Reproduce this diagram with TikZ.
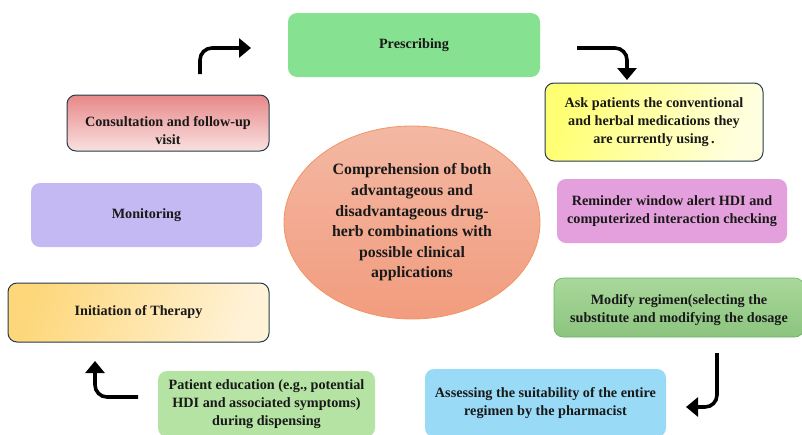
\documentclass[tikz,border=0pt]{standalone}
\usepackage{fontspec}
\setmainfont{Liberation Serif}
\usetikzlibrary{arrows.meta,shapes.geometric}
\definecolor{cPres}{HTML}{86E290}
\definecolor{cRem}{HTML}{E4A0DC}
\definecolor{cAss}{HTML}{99DAF6}
\definecolor{cEdu}{HTML}{B5E3A4}
\definecolor{cMon}{HTML}{C5B9F4}
\definecolor{cDark}{HTML}{243B4A}
\tikzset{
  box/.style={rectangle, rounded corners=9pt, inner sep=0pt, align=center,
    font=\fontsize{14.2}{18}\selectfont\bfseries, text=black!90},
  boxtext/.style={inner sep=0pt, align=center,
    font=\fontsize{14.2}{18}\selectfont\bfseries, text=black!90},
  bigtext/.style={font=\fontsize{15.8}{20.6}\selectfont\bfseries, text=black!90},
  flow/.style={line width=3.6pt, -{Triangle[length=12pt,width=19pt]}, rounded corners=12pt}
}
\begin{document}
\begin{tikzpicture}[x=1pt,y=-1pt]
\useasboundingbox (0,0) rectangle (802,434);
% boxes
\node[box, fill=cPres, minimum width=252pt, minimum height=64pt] (pres) at (414,45) {Prescribing};
\node[box, draw=cDark, line width=1pt, left color=yellow!55!white, right color=yellow!12!white, shading angle=70,
  minimum width=218pt, minimum height=78pt] (ask) at (654,122)
  {Ask patients the conventional\\and herbal medications they\\are currently using\,.};
\node[box, fill=cRem, minimum width=230pt, minimum height=64pt] (rem) at (672,211)
  {Reminder window alert HDI and\\computerized interaction checking};
\node[box, draw=green!50!black!60, line width=0.6pt, top color={rgb,255:red,169;green,216;blue,156}, bottom color={rgb,255:red,140;green,196;blue,126},
  minimum width=250pt, minimum height=59pt] (mod) at (679,307.5) {};
\node[boxtext] (modT) at (679,310.5) {Modify regimen(selecting the\\substitute and modifying the dosage};
\node[box, fill=cAss, minimum width=241pt, minimum height=68pt] (ass) at (545.5,403)
  {Assessing the suitability of the entire\\regimen by the pharmacist};
\node[box, fill=cEdu, minimum width=217pt, minimum height=66pt] (edu) at (266.5,404)
  {Patient education (e.g., potential\\HDI and associated symptoms)\\during dispensing};
\node[box, draw=cDark, line width=1pt, left color={rgb,255:red,253;green,215;blue,122}, right color={rgb,255:red,255;green,242;blue,215}, shading angle=70,
  minimum width=261pt, minimum height=59pt] (ini) at (138.5,312.5) {Initiation of Therapy};
\node[box, fill=cMon, minimum width=231pt, minimum height=64pt] (mon) at (146.5,215) {Monitoring};
\node[box, draw=cDark, line width=1pt, top color={rgb,255:red,232;green,136;blue,136}, bottom color={rgb,255:red,249;green,224;blue,224},
  minimum width=202pt, minimum height=56pt] (con) at (168,123) {};
\node[boxtext] (conT) at (168,131) {Consultation and follow-up\\visit};
% centre ellipse
\node[ellipse, draw={rgb,255:red,240;green,150;blue,100}, line width=0.8pt,
  top color={rgb,255:red,243;green,184;blue,163}, bottom color={rgb,255:red,242;green,156;blue,126},
  minimum width=256pt, minimum height=193pt, inner sep=0pt, align=center, bigtext] (ctr) at (412,222.5)
  {Comprehension of both\\advantageous and\\disadvantageous drug-\\herb combinations with\\possible clinical\\applications};
% arrows
\coordinate (a1s) at (200,74);
\coordinate (a1c) at (200,48);
\coordinate (a1e) at (251,48);
\draw[flow] (a1s) -- (a1c) -- (a1e);
\coordinate (a2s) at (577,48);
\coordinate (a2c) at (627,48);
\coordinate (a2e) at (627,80);
\draw[flow] (a2s) -- (a2c) -- (a2e);
\coordinate (a3s) at (717,353);
\coordinate (a3c) at (717,407);
\coordinate (a3e) at (686,407);
\draw[flow] (a3s) -- (a3c) -- (a3e);
\coordinate (a4s) at (138,397);
\coordinate (a4c) at (95,397);
\coordinate (a4e) at (95,361);
\draw[flow] (a4s) -- (a4c) -- (a4e);
\end{tikzpicture}
\end{document}
